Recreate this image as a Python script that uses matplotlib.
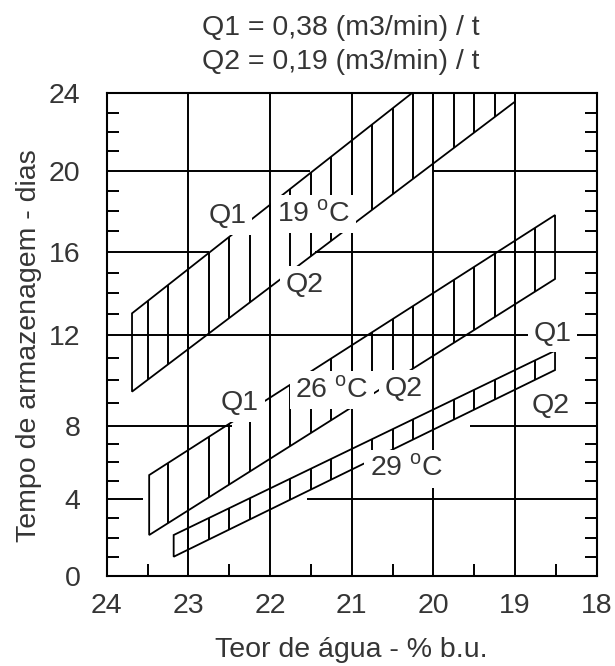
import numpy as np
import matplotlib
matplotlib.use("Agg")
import matplotlib.pyplot as plt
from matplotlib.patches import Polygon
from matplotlib.ticker import MultipleLocator

plt.rcParams['font.family'] = ['Liberation Sans', 'DejaVu Sans']
plt.rcParams['mathtext.fontset'] = 'custom'
plt.rcParams['mathtext.rm'] = 'Liberation Sans'

# ------------------------------------------------------
# dados (teor de água x tempo de armazenagem)
# cada faixa: reta Q1 em cima, reta Q2 embaixo
# 19 oC  (a reta Q1 passa do topo do gráfico)
q1_19_x = [23.69, 19.0]
q1_19_y = [13.04, 28.2]
q2_19_x = [23.69, 19.0]
q2_19_y = [9.51, 23.57]
# 26 oC
q1_26_x = [23.48, 18.51]
q1_26_y = [5.31, 17.81]
q2_26_x = [23.48, 18.51]
q2_26_y = [2.14, 14.69]
# 29 oC
q1_29_x = [23.18, 18.51]
q1_29_y = [2.14, 11.31]
q2_29_x = [23.18, 18.51]
q2_29_y = [1.02, 10.46]

x_ticks = [24, 23, 22, 21, 20, 19, 18]
y_ticks = [0, 4, 8, 12, 16, 20, 24]

titulo = ["Q1 = 0,38 (m3/min) / t", "Q2 = 0,19 (m3/min) / t"]
cor_texto = '#353535'

# o eixo y do original não é uniforme: altura (px) de cada divisão
y_div_px = [0, 77.5, 150.5, 241.5, 324.8, 405.8, 483.2]


def y_fwd(y):
    y = np.asarray(y, dtype=float)
    v = np.interp(y, y_ticks, y_div_px)
    v = np.where(y > 24, y_div_px[-1] + (y - 24) * 19.35, v)
    v = np.where(y < 0, y * 19.4, v)
    return v


def y_inv(v):
    v = np.asarray(v, dtype=float)
    y = np.interp(v, y_div_px, y_ticks)
    y = np.where(v > y_div_px[-1], 24 + (v - y_div_px[-1]) / 19.35, y)
    y = np.where(v < 0, v / 19.4, y)
    return y


# trechos em que as linhas horizontais da grade somem no original
grade_falhas = {4: (23.55, 21.55), 8: (22.47, 19.55), 12: None,
                16: (22.75, 21.45), 20: (21.51, 20.0)}

fig = plt.figure(figsize=(6.15, 6.66), dpi=100)
ax = fig.add_axes([0.1735, 0.1344, 0.7967, 0.7255])
ax.set_yscale('function', functions=(y_fwd, y_inv))
ax.set_xlim(24, 18)
ax.set_ylim(0, 24)

# grade
for xv in x_ticks[1:-1]:
    ax.axvline(xv, color='k', lw=1.4, zorder=1)
for yv, falha in grade_falhas.items():
    if falha is None:
        ax.axhline(yv, color='k', lw=1.4, zorder=1)
    else:
        ax.hlines(yv, 24, falha[0], colors='k', lw=1.4, zorder=1)
        ax.hlines(yv, falha[1], 18, colors='k', lw=1.4, zorder=1)

# faixas hachuradas
hatch_x = np.arange(18.25, 24.0, 0.25)
faixas = [(q1_19_x, q1_19_y, q2_19_x, q2_19_y),
          (q1_26_x, q1_26_y, q2_26_x, q2_26_y),
          (q1_29_x, q1_29_y, q2_29_x, q2_29_y)]
for q1x, q1y, q2x, q2y in faixas:
    verts = list(zip(q1x, q1y)) + list(zip(q2x[::-1], q2y[::-1]))
    contorno = Polygon(verts, closed=True, fill=False, ec='k', lw=1.3,
                       zorder=2, transform=ax.transData)
    ax.add_patch(contorno)
    hach = ax.vlines(hatch_x, -1, 30, colors='k', lw=1.4, zorder=2)
    hach.set_clip_path(contorno)

# rótulos com fundo branco
caixa = dict(boxstyle='square,pad=0.2', fc='white', ec='none')


def rotulo(x, y, s):
    ax.text(x, y, s, ha='center', va='baseline', fontsize=20.5,
            color=cor_texto, bbox=caixa, zorder=5)


rotulo(22.52, 17.42, "Q1")
rotulo(21.47, 17.48, r"19 $^{\rm o}$C")
rotulo(21.58, 14.08, "Q2")
rotulo(22.37, 8.70, "Q1")
rotulo(21.24, 9.24, r"26 $^{\rm o}$C")
rotulo(20.36, 9.33, "Q2")
rotulo(18.54, 11.75, "Q1")
rotulo(18.56, 8.56, "Q2")
rotulo(20.33, 5.26, r"29 $^{\rm o}$C")

# eixos e marcas
ax.set_xticks(x_ticks, labels=[str(v) for v in x_ticks])
ax.set_yticks(y_ticks, labels=[str(v) for v in y_ticks])
ax.xaxis.set_minor_locator(MultipleLocator(0.5))
ax.yaxis.set_minor_locator(MultipleLocator(1))
ax.tick_params(which='major', length=0, labelsize=20.5, labelcolor=cor_texto)
ax.tick_params(axis='x', which='major', pad=12)
ax.tick_params(axis='y', which='major', pad=19)
ax.tick_params(which='minor', direction='in', length=8.8, width=1.4,
               color='k', left=True, right=True, bottom=True, top=False)
for sp in ax.spines.values():
    sp.set_linewidth(1.5)

fig.text(0.5545, 1 - 35 / 666, titulo[0], ha='center', va='baseline',
         fontsize=20.5, color=cor_texto)
fig.text(0.5545, 1 - 69 / 666, titulo[1], ha='center', va='baseline',
         fontsize=20.5, color=cor_texto)
fig.text(0.572, 1 - 657 / 666, "Teor de água - % b.u.", ha='center',
         va='baseline', fontsize=20.5, color=cor_texto)
fig.text(29 / 615, 1 - 346 / 666, "Tempo de armazenagem - dias",
         rotation=90, ha='center', va='center', fontsize=20.5,
         color=cor_texto)

fig.savefig('out.png', dpi=100)
